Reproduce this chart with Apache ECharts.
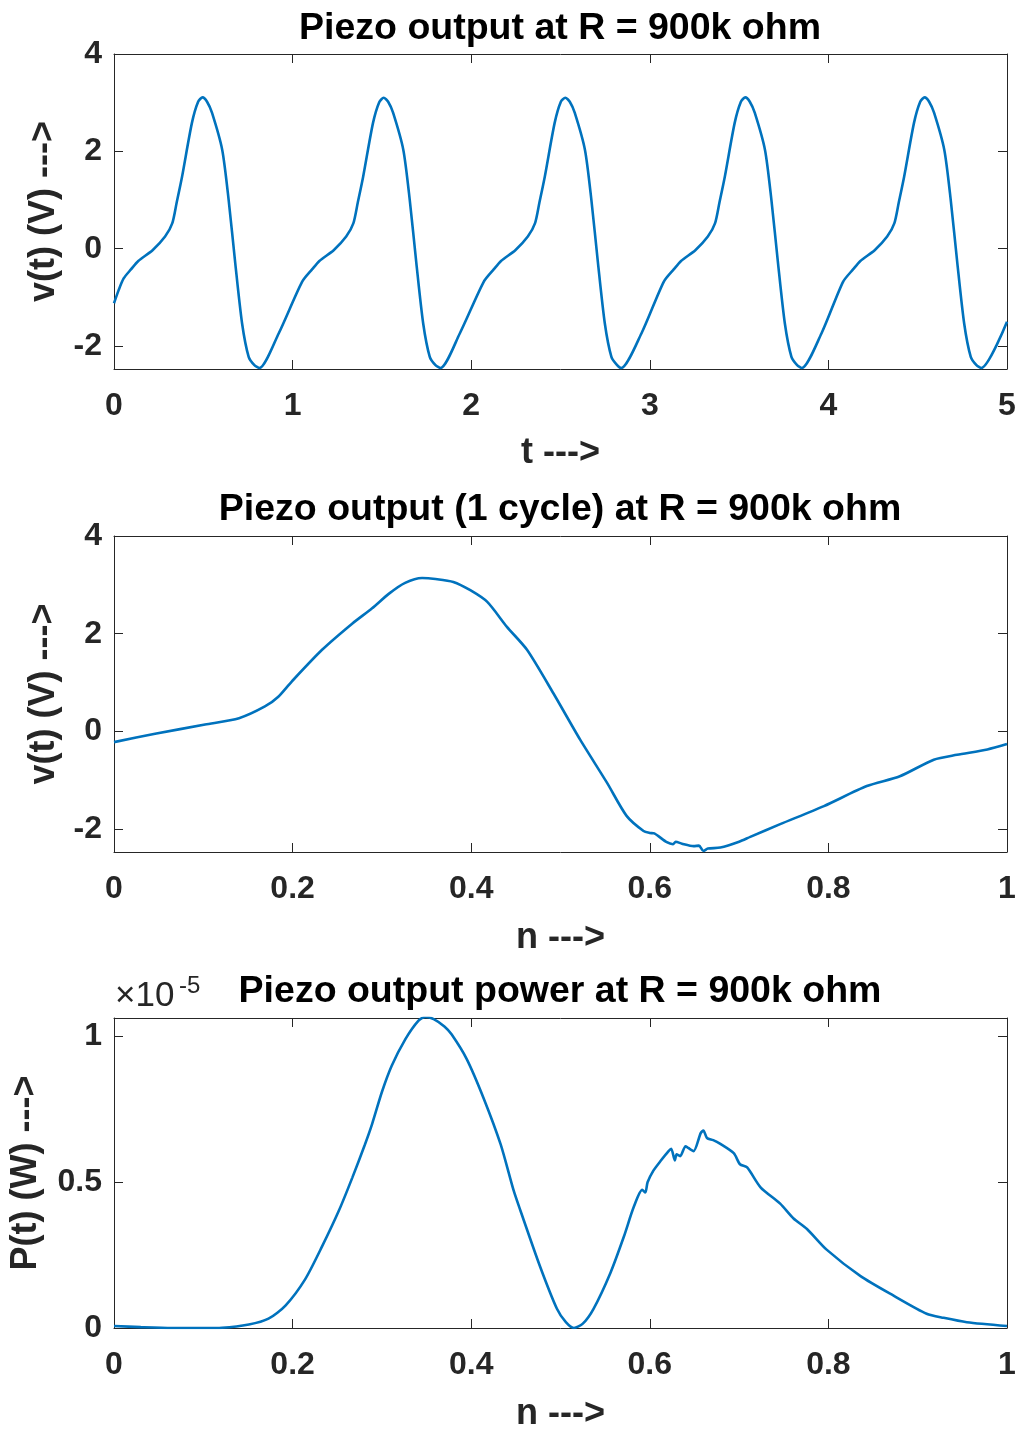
<!DOCTYPE html>
<html>
<head>
<meta charset="utf-8">
<script src="https://cdn.jsdelivr.net/npm/echarts@6/dist/echarts.min.js"></script>
<style>
html, body { margin: 0; padding: 0; background: #fff; }
#chart { width: 1021px; height: 1433px; }
</style>
</head>
<body>
<div id="chart"></div>
<script>
// five cycles, t in s, v in V
var tWave = [
    0, 0.025, 0.054, 0.096, 0.136, 0.216, 0.286, 0.326, 0.351, 0.381, 0.436, 0.471, 0.496, 0.521, 0.549, 0.606, 0.642, 0.679, 0.717, 0.754, 0.786, 0.814, 0.922,
    1.053, 1.110, 1.150, 1.230, 1.300, 1.340, 1.365, 1.395, 1.450, 1.485, 1.510, 1.535, 1.563, 1.620, 1.656, 1.693, 1.731, 1.768, 1.800, 1.828, 1.936,
    2.070, 2.127, 2.167, 2.247, 2.317, 2.357, 2.382, 2.412, 2.467, 2.502, 2.527, 2.552, 2.580, 2.637, 2.673, 2.710, 2.748, 2.785, 2.817, 2.840, 2.953,
    3.078, 3.135, 3.175, 3.255, 3.325, 3.365, 3.390, 3.420, 3.475, 3.510, 3.535, 3.560, 3.588, 3.645, 3.681, 3.718, 3.756, 3.793, 3.825, 3.851, 3.961,
    4.082, 4.139, 4.179, 4.259, 4.329, 4.369, 4.394, 4.424, 4.479, 4.514, 4.539, 4.564, 4.592, 4.649, 4.685, 4.722, 4.760, 4.797, 4.829, 4.856, 5.0
];
var vWave = [
    -1.12, -0.86, -0.61, -0.42, -0.25, -0.03, 0.25, 0.52, 0.95, 1.48, 2.58, 3.02, 3.11, 3.02, 2.79, 2.03, 1.0, -0.30, -1.53, -2.22, -2.39, -2.45, -1.74,
    -0.68, -0.42, -0.25, -0.03, 0.25, 0.52, 0.95, 1.48, 2.58, 3.01, 3.10, 3.02, 2.79, 2.03, 1.0, -0.30, -1.53, -2.22, -2.39, -2.45, -1.74,
    -0.68, -0.42, -0.25, -0.03, 0.25, 0.52, 0.95, 1.48, 2.58, 3.02, 3.10, 3.02, 2.79, 2.03, 1.0, -0.30, -1.53, -2.22, -2.39, -2.45, -1.74,
    -0.68, -0.42, -0.25, -0.03, 0.25, 0.52, 0.95, 1.48, 2.58, 3.02, 3.11, 3.02, 2.79, 2.03, 1.0, -0.30, -1.53, -2.22, -2.39, -2.45, -1.74,
    -0.68, -0.42, -0.25, -0.03, 0.25, 0.52, 0.95, 1.48, 2.58, 3.02, 3.11, 3.02, 2.79, 2.03, 1.0, -0.30, -1.53, -2.22, -2.39, -2.45, -1.50
];

// one cycle, normalised n
var nCycle = [0, 0.046, 0.102, 0.14, 0.169, 0.184, 0.199, 0.233, 0.267, 0.289, 0.308, 0.326, 0.345, 0.36, 0.38, 0.399, 0.418, 0.44, 0.4625, 0.492, 0.522, 0.552, 0.574, 0.593, 0.60, 0.605, 0.619, 0.626, 0.629, 0.636, 0.649, 0.655, 0.66, 0.665, 0.679, 0.70, 0.7125, 0.746, 0.795, 0.843, 0.88, 0.918, 0.944, 0.978, 1.0];
var vCycle = [-0.22, -0.05, 0.14, 0.27, 0.51, 0.71, 1.02, 1.67, 2.21, 2.52, 2.82, 3.04, 3.14, 3.12, 3.06, 2.89, 2.65, 2.14, 1.67, 0.78, -0.17, -1.05, -1.73, -2.04, -2.08, -2.09, -2.27, -2.31, -2.26, -2.30, -2.35, -2.34, -2.45, -2.40, -2.38, -2.26, -2.16, -1.90, -1.53, -1.12, -0.92, -0.58, -0.48, -0.37, -0.26];

// power over one cycle, in units of 1e-5 W
var nPow = [0, 0.03, 0.065, 0.1, 0.121, 0.151, 0.173, 0.192, 0.214, 0.233, 0.252, 0.267, 0.281, 0.289, 0.300, 0.311, 0.326, 0.341, 0.349, 0.358, 0.37, 0.378, 0.395, 0.414, 0.433, 0.4475, 0.455, 0.477, 0.496, 0.506, 0.515, 0.525, 0.537, 0.556, 0.571, 0.582, 0.5915, 0.595, 0.5975, 0.604, 0.612, 0.621, 0.624, 0.628, 0.630, 0.634, 0.640, 0.643, 0.649, 0.657, 0.660, 0.664, 0.671, 0.679, 0.694, 0.701, 0.709, 0.724, 0.746, 0.761, 0.776, 0.798, 0.836, 0.873, 0.910, 0.929, 0.955, 1.0];
var pPow = [0.007, 0.003, 0.0, 0.0, 0.001, 0.012, 0.032, 0.077, 0.167, 0.28, 0.404, 0.517, 0.63, 0.70, 0.81, 0.90, 0.99, 1.055, 1.068, 1.06, 1.035, 1.008, 0.923, 0.788, 0.63, 0.472, 0.404, 0.212, 0.066, 0.02, 0.0, 0.015, 0.066, 0.19, 0.314, 0.415, 0.474, 0.465, 0.50, 0.54, 0.573, 0.607, 0.615, 0.575, 0.596, 0.59, 0.624, 0.618, 0.607, 0.669, 0.678, 0.652, 0.645, 0.632, 0.60, 0.562, 0.551, 0.483, 0.427, 0.376, 0.34, 0.269, 0.178, 0.111, 0.049, 0.035, 0.02, 0.007];

var titles = [
    'Piezo output at R = 900k ohm',
    'Piezo output (1 cycle) at R = 900k ohm',
    'Piezo output power at R = 900k ohm'
];

function zip(a, b) {
    var out = [];
    for (var i = 0; i < a.length; i++) out.push([a[i], b[i]]);
    return out;
}

var FONT = 'Liberation Sans, Arial, Helvetica, sans-serif';
var AX = '#262626';

var myChart = echarts.init(document.getElementById('chart'));

var panels = [
    { top: 54, height: 315, xMax: 5, xStep: 1, yMin: -2.47, yMax: 4, ySplit: 3, yStep: 2, xName: 't --->', yName: 'v(t) (V) --->', yGap: 52, xGap: 66, data: zip(tWave, vWave) },
    { top: 536, height: 316, xMax: 1, xStep: 0.2, yMin: -2.47, yMax: 4, ySplit: 3, yStep: 2, xName: 'n --->', yName: 'v(t) (V) --->', yGap: 52, xGap: 68, data: zip(nCycle, vCycle) },
    { top: 1018, height: 315, xMax: 1, xStep: 0.2, yMin: 0, yMax: 1.064, ySplit: 2, yStep: 0.5, xName: 'n --->', yName: 'P(t) (W) --->', yGap: 70, xGap: 68, data: zip(nPow, pPow) }
];

var grid = [], xAxis = [], yAxis = [], series = [], title = [];
var tops = [10, 491, 973];

panels.forEach(function (p, i) {
    grid.push({ left: 114, width: 893, top: p.top, height: p.height });
    var line = { show: true, onZero: false, lineStyle: { color: AX, width: 1 } };
    var tick = { show: true, inside: true, length: 9, lineStyle: { color: AX, width: 1 } };
    var step = p.yStep;
    xAxis.push({
        type: 'value', gridIndex: i, position: 'bottom', min: 0, max: p.xMax, interval: p.xStep,
        axisLine: line, axisTick: tick, splitLine: { show: false },
        axisLabel: { margin: 21, color: AX, fontSize: 32, fontWeight: 'bold', fontFamily: FONT },
        name: p.xName, nameLocation: 'middle', nameGap: p.xGap,
        nameTextStyle: { color: AX, fontSize: 36, fontWeight: 'bold', fontFamily: FONT }
    });
    xAxis.push({
        type: 'value', gridIndex: i, position: 'top', min: 0, max: p.xMax, interval: p.xStep,
        axisLine: line, axisTick: tick, axisLabel: { show: false }, splitLine: { show: false }
    });
    yAxis.push({
        type: 'value', gridIndex: i, position: 'left', min: p.yMin, max: p.yMax, splitNumber: p.ySplit,
        axisLine: line, axisTick: tick, splitLine: { show: false },
        axisLabel: {
            margin: 12, color: AX, fontSize: 32, fontWeight: 'bold', fontFamily: FONT,
            formatter: function (v) {
                var k = v / step;
                return Math.abs(k - Math.round(k)) < 1e-6 ? String(+v.toFixed(2)) : '';
            }
        },
        name: p.yName, nameLocation: 'middle', nameGap: p.yGap,
        nameTextStyle: { color: AX, fontSize: 36, fontWeight: 'bold', fontFamily: FONT }
    });
    yAxis.push({
        type: 'value', gridIndex: i, position: 'right', min: p.yMin, max: p.yMax, splitNumber: p.ySplit,
        axisLine: line, axisTick: tick, axisLabel: { show: false }, splitLine: { show: false }
    });
    series.push({
        type: 'line', xAxisIndex: i * 2, yAxisIndex: i * 2, data: p.data,
        showSymbol: false, smooth: 0.25, clip: true,
        lineStyle: { color: '#0072BD', width: 2.6 }
    });
    title.push({
        text: titles[i], left: 560, top: tops[i], textAlign: 'center', padding: 0,
        textStyle: { color: '#000', fontSize: 37.5, fontWeight: 'bold', fontFamily: FONT }
    });
});

var option = {
    animation: false,
    backgroundColor: '#fff',
    title: title,
    grid: grid,
    xAxis: xAxis,
    yAxis: yAxis,
    series: series,
    graphic: [
        { type: 'text', x: 115, y: 996, style: { text: '×10', fill: AX, font: '35px ' + FONT, textAlign: 'left', textVerticalAlign: 'middle' } },
        { type: 'text', x: 179, y: 986, style: { text: '-5', fill: AX, font: '24px ' + FONT, textAlign: 'left', textVerticalAlign: 'middle' } }
    ]
};

myChart.setOption(option);
window.addEventListener('resize', function () {
    myChart.resize();
});
</script>
</body>
</html>
